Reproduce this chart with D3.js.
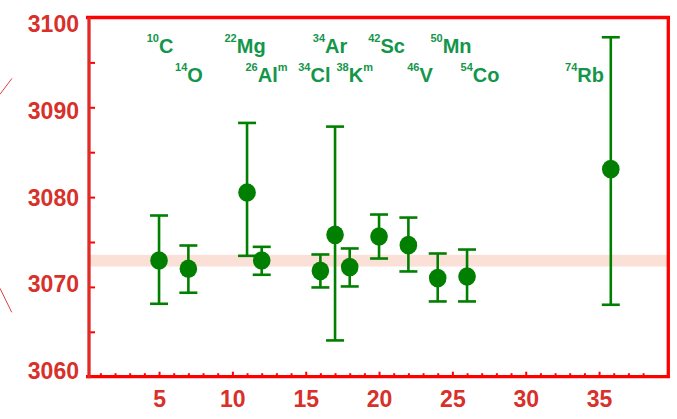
<!DOCTYPE html>
<html><head><meta charset="utf-8">
<script src="https://cdn.jsdelivr.net/npm/d3@7"></script>
<style>
body{margin:0;background:#fff}
svg{display:block;font-family:"Liberation Sans",Arial,Helvetica,sans-serif}
</style>
</head><body>
<svg id="chart" width="677" height="419"></svg>
<script>
// ---- data ----
const massNumbers = [10, 14, 22, 26, 34, 34, 38, 42, 46, 50, 54, 74];
const elements    = ["C", "O", "Mg", "Al", "Cl", "Ar", "K", "Sc", "V", "Mn", "Co", "Rb"];
const isomers     = ["", "", "", "m", "", "", "m", "", "", "", "", ""];
const daughterZ   = [5, 7, 11, 12, 16, 17, 18, 20, 22, 24, 26, 35.8];
const ftValues    = [3072.94, 3072.02, 3080.51, 3072.94, 3071.79, 3075.80, 3072.21, 3075.61, 3074.65, 3070.98, 3071.16, 3083.11];
const ftLower     = [3068.12, 3069.35, 3073.46, 3071.35, 3069.94, 3064.04, 3070.05, 3073.16, 3071.72, 3068.38, 3068.38, 3068.01];
const ftUpper     = [3077.95, 3074.61, 3088.26, 3074.46, 3073.61, 3087.85, 3074.28, 3078.06, 3077.72, 3073.72, 3074.16, 3097.80];
const averageBand = [3072.27, 3073.57];
const xTickLabels = [5, 10, 15, 20, 25, 30, 35];
const yTickLabels = [3060, 3070, 3080, 3090, 3100];

// ---- layout ----
const labelRow = [0, 1, 0, 1, 1, 0, 1, 0, 1, 0, 1, 1];
const labelDx  = [1, 0.6, -2, 4.8, -6, -5, 5, 7.5, 11.6, 13.3, 13, -26.3];
const rowBaseline = [53.3, 81.7];

const svg = d3.select("#chart");
const x = d3.scaleLinear().domain([0, 40]).range([85.7, 672.4]);
const y = d3.scaleLinear().domain([3060, 3100]).range([376.7, 17.5]);
const yLabel = d3.scaleLinear().domain([3060, 3100]).range([370.8, 24.2]);

const frameL = 89, frameR = 668.3, frameT = 17.5, frameB = 376.7;
const red = "#ff0000", axisRed = "#e02a26", textRed = "#d8302a";
const green = "#007f00", labelGreen = "#14964a";

// decorative strokes on the left
svg.append("line").attr("x1", 0).attr("y1", 94.3).attr("x2", 12).attr("y2", 78.3)
  .attr("stroke", "#e04040").attr("stroke-width", 1);
svg.append("line").attr("x1", 0).attr("y1", 288.3).attr("x2", 11.7).attr("y2", 312.3)
  .attr("stroke", "#e04040").attr("stroke-width", 1);

// average band
svg.append("rect")
  .attr("x", frameL).attr("width", frameR - frameL)
  .attr("y", y(averageBand[1])).attr("height", y(averageBand[0]) - y(averageBand[1]))
  .attr("fill", "#fae0d7");

// y axis ticks (inward)
const yAxis = d3.axisRight(y).tickValues(d3.range(3065, 3100, 5)).tickSize(6).tickFormat("");
const gy = svg.append("g").attr("transform", `translate(${frameL},0)`).call(yAxis);
gy.select(".domain").remove();
gy.selectAll(".tick line").attr("stroke", red).attr("stroke-width", 2);

// y labels
svg.append("g").selectAll("text").data(yTickLabels).join("text")
  .attr("x", 79).attr("y", d => yLabel(d)).attr("dy", "0.36em")
  .attr("text-anchor", "end").attr("font-size", 23).attr("font-weight", "bold")
  .attr("fill", textRed).text(d => d);

// x axis minor ticks
const minor = d3.range(1, 39).filter(d => d % 5 !== 0);
const gxm = svg.append("g").attr("transform", `translate(0,${frameB})`)
  .call(d3.axisBottom(x).tickValues(minor).tickSize(-3.5).tickFormat(""));
gxm.select(".domain").remove();
gxm.selectAll(".tick line").attr("stroke", red).attr("stroke-width", 2);

// x axis major ticks with labels
const gx = svg.append("g").attr("transform", `translate(0,${frameB})`)
  .call(d3.axisBottom(x).tickValues(xTickLabels).tickSize(-5).tickPadding(14));
gx.select(".domain").remove();
gx.selectAll(".tick line").attr("stroke", red).attr("stroke-width", 2);
gx.selectAll(".tick text").attr("fill", textRed).attr("font-size", 23)
  .attr("font-weight", "bold").attr("font-family", "'Liberation Sans',Arial,sans-serif");

// frame
svg.append("line").attr("x1", 86).attr("x2", 670).attr("y1", frameT).attr("y2", frameT)
  .attr("stroke", red).attr("stroke-width", 3.7);
svg.append("line").attr("x1", frameR).attr("x2", frameR).attr("y1", frameT).attr("y2", frameB)
  .attr("stroke", red).attr("stroke-width", 3.3);
svg.append("line").attr("x1", 86).attr("x2", 670).attr("y1", frameB).attr("y2", frameB)
  .attr("stroke", red).attr("stroke-width", 3.3);
svg.append("line").attr("x1", frameL).attr("x2", frameL).attr("y1", frameT).attr("y2", frameB + 1.5)
  .attr("stroke", axisRed).attr("stroke-width", 3.3);

// data
const data = massNumbers.map((m, i) => ({
  m, el: elements[i], iso: isomers[i], z: daughterZ[i],
  v: ftValues[i], lo: ftLower[i], hi: ftUpper[i], row: labelRow[i], dx: labelDx[i]
}));

const capW = 9;
const eb = svg.append("g").attr("stroke", green).attr("stroke-width", 2.6);
eb.selectAll("line.v").data(data).join("line").attr("class", "v")
  .attr("x1", d => x(d.z)).attr("x2", d => x(d.z))
  .attr("y1", d => y(d.hi)).attr("y2", d => y(d.lo));
eb.selectAll("line.t").data(data).join("line").attr("class", "t")
  .attr("x1", d => x(d.z) - capW).attr("x2", d => x(d.z) + capW)
  .attr("y1", d => y(d.hi)).attr("y2", d => y(d.hi));
eb.selectAll("line.b").data(data).join("line").attr("class", "b")
  .attr("x1", d => x(d.z) - capW).attr("x2", d => x(d.z) + capW)
  .attr("y1", d => y(d.lo)).attr("y2", d => y(d.lo));

svg.append("g").selectAll("ellipse").data(data).join("ellipse")
  .attr("cx", d => x(d.z)).attr("cy", d => y(d.v))
  .attr("rx", 8.8).attr("ry", 9.3).attr("fill", green);

// nuclide labels
const lbl = svg.append("g").selectAll("text").data(data).join("text")
  .attr("x", d => x(d.z) + d.dx).attr("y", d => rowBaseline[d.row])
  .attr("text-anchor", "middle").attr("font-weight", "bold").attr("fill", labelGreen);
lbl.append("tspan").attr("font-size", 11).attr("dy", -11).text(d => d.m);
lbl.append("tspan").attr("font-size", 20).attr("dy", 11).text(d => d.el);
lbl.filter(d => d.iso).append("tspan").attr("font-size", 11).attr("dy", -11).text(d => d.iso);
</script>
</body></html>
